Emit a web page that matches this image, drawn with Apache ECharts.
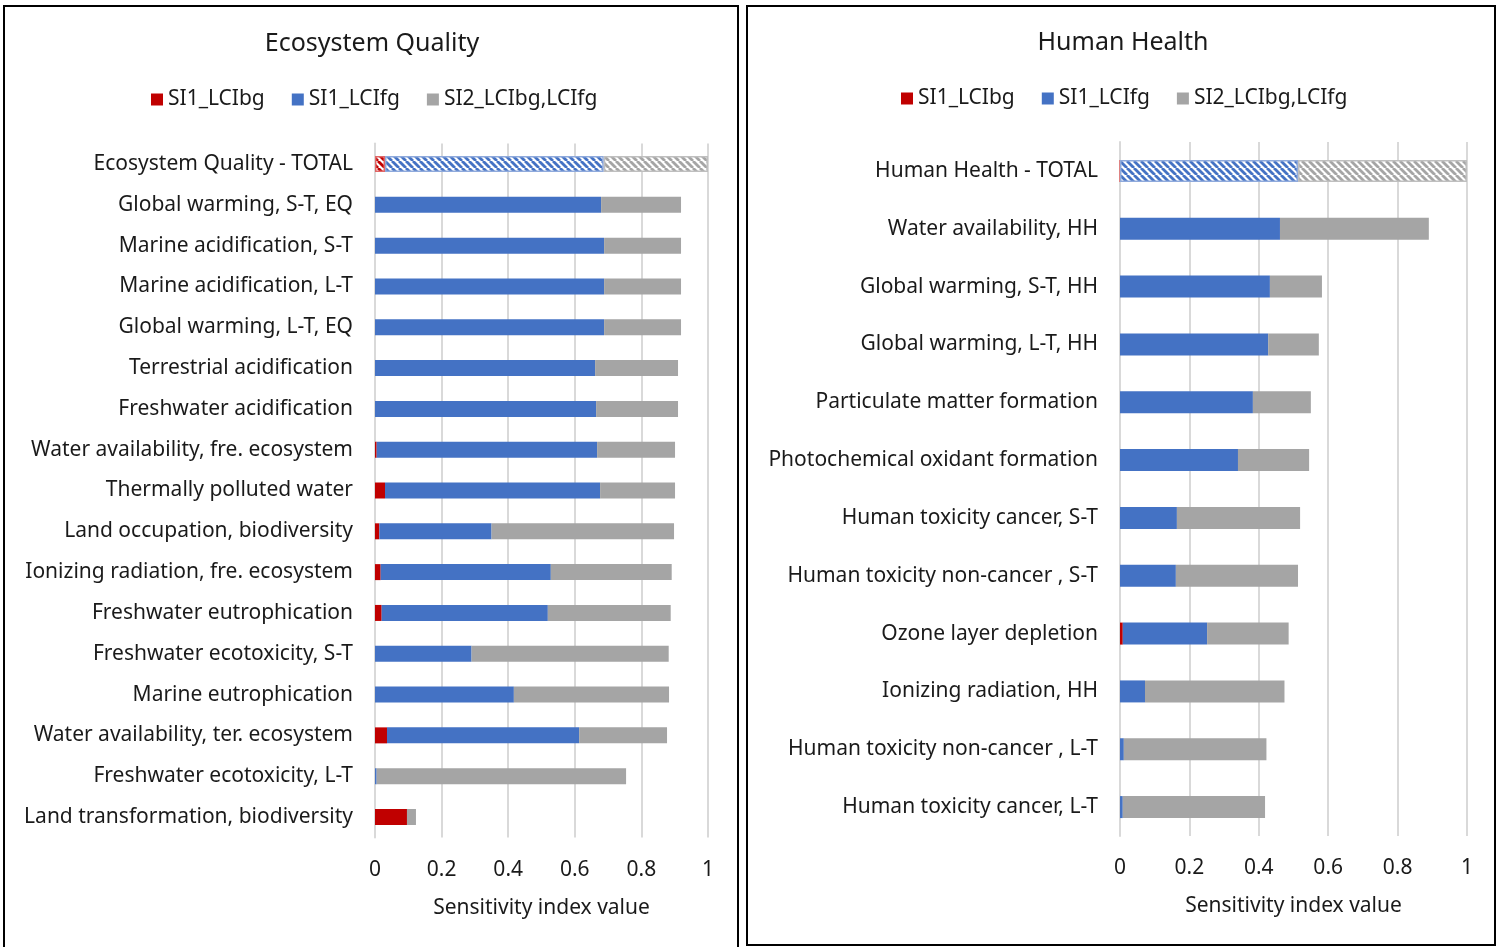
<!DOCTYPE html>
<html>
<head>
<meta charset="utf-8">
<script src="https://cdn.jsdelivr.net/npm/echarts@6/dist/echarts.min.js"></script>
<style>
  html, body { margin: 0; padding: 0; background: #fff; }
  #chart { width: 1502px; height: 947px; }
</style>
</head>
<body>
<div id="chart"></div>
<script>
// ---- data: Ecosystem Quality (top to bottom) ----
const eqCategories = [
  "Ecosystem Quality - TOTAL", "Global warming, S-T, EQ", "Marine acidification, S-T",
  "Marine acidification, L-T", "Global warming, L-T, EQ", "Terrestrial acidification",
  "Freshwater acidification", "Water availability, fre. ecosystem", "Thermally polluted water",
  "Land occupation, biodiversity", "Ionizing radiation, fre. ecosystem", "Freshwater eutrophication",
  "Freshwater ecotoxicity, S-T", "Marine eutrophication", "Water availability, ter. ecosystem",
  "Freshwater ecotoxicity, L-T", "Land transformation, biodiversity"
];
const eqSI1bg = [0.030, 0, 0, 0, 0, 0, 0, 0.005, 0.030, 0.013, 0.017, 0.020, 0, 0, 0.036, 0, 0.096];
const eqSI1fg = [0.657, 0.679, 0.688, 0.688, 0.688, 0.661, 0.664, 0.662, 0.646, 0.337, 0.511, 0.499, 0.290, 0.417, 0.577, 0.005, 0];
const eqSI2   = [0.313, 0.240, 0.231, 0.231, 0.231, 0.249, 0.246, 0.234, 0.225, 0.548, 0.363, 0.369, 0.592, 0.466, 0.264, 0.749, 0.027];

// ---- data: Human Health (top to bottom) ----
const hhCategories = [
  "Human Health - TOTAL", "Water availability, HH", "Global warming, S-T, HH",
  "Global warming, L-T, HH", "Particulate matter formation", "Photochemical oxidant formation",
  "Human toxicity cancer, S-T", "Human toxicity non-cancer , S-T", "Ozone layer depletion",
  "Ionizing radiation, HH", "Human toxicity non-cancer , L-T", "Human toxicity cancer, L-T"
];
const hhSI1bg = [0, 0, 0, 0, 0, 0, 0, 0, 0.008, 0, 0, 0];
const hhSI1fg = [0.513, 0.461, 0.432, 0.427, 0.383, 0.340, 0.164, 0.161, 0.243, 0.072, 0.011, 0.008];
const hhSI2   = [0.487, 0.429, 0.150, 0.146, 0.167, 0.205, 0.355, 0.352, 0.235, 0.402, 0.411, 0.410];

const seriesNames = ["SI1_LCIbg", "SI1_LCIfg", "SI2_LCIbg,LCIfg"];
const colors = ["#C00000", "#4472C4", "#A5A5A5"];
const borderColors = ["#E06666", "#8FAADC", "#BFBFBF"];
const FONT = "Noto Sans";
const TXT = "#1a1a1a";

// diagonal hatch used for the TOTAL rows
const makeHatch = (color) => {
  const n = 7;
  const c = document.createElement("canvas");
  c.width = n; c.height = n;
  const ctx = c.getContext("2d");
  ctx.fillStyle = "#fff";
  ctx.fillRect(0, 0, n, n);
  ctx.strokeStyle = color;
  ctx.lineWidth = 2.8;
  [-n, 0, n].forEach(o => {
    ctx.beginPath();
    ctx.moveTo(o, 0);
    ctx.lineTo(o + n, n);
    ctx.stroke();
  });
  return { image: c, repeat: "repeat" };
};

const withTotal = (values, idx) => values.map((v, i) => {
  if (i !== 0) return v;
  return {
    value: v,
    itemStyle: { color: makeHatch(colors[idx]), borderColor: borderColors[idx], borderWidth: 1.5 }
  };
});

const makeSeries = (lists, gridIdx, barWidth) => lists.map((vals, k) => ({
  name: seriesNames[k],
  type: "bar",
  stack: "s" + gridIdx,
  xAxisIndex: gridIdx,
  yAxisIndex: gridIdx,
  barWidth: barWidth,
  itemStyle: { color: colors[k] },
  data: withTotal(vals, k)
}));

const xAxisBase = (gridIdx) => ({
  gridIndex: gridIdx,
  type: "value",
  min: 0,
  max: 1,
  interval: 0.2,
  axisLine: { show: false },
  axisTick: { show: false },
  splitLine: { lineStyle: { color: "#D9D9D9", width: 2 } },
  axisLabel: { fontFamily: FONT, fontSize: 21, color: TXT, margin: 22 },
  name: "Sensitivity index value",
  nameLocation: "middle",
  nameGap: 60,
  nameTextStyle: { fontFamily: FONT, fontSize: 21, color: TXT }
});

const yAxisBase = (gridIdx, cats) => ({
  gridIndex: gridIdx,
  type: "category",
  inverse: true,
  data: cats,
  axisLine: { lineStyle: { color: "#D9D9D9", width: 2 } },
  axisTick: { show: false },
  axisLabel: { fontFamily: FONT, fontSize: 21, color: TXT, margin: 22 }
});

const legendBase = (leftX, top) => ({
  data: seriesNames,
  left: leftX,
  top: top,
  itemWidth: 12,
  itemHeight: 12,
  itemGap: 27,
  icon: "rect",
  selectedMode: false,
  textStyle: { fontFamily: FONT, fontSize: 21, color: TXT }
});

const myChart = echarts.init(document.getElementById("chart"));

let option = {
  backgroundColor: "#fff",
  animation: false,
  graphic: [
    { type: "rect", shape: { x: 4, y: 6, width: 734, height: 945 }, style: { fill: "none", stroke: "#000", lineWidth: 2 } },
    { type: "rect", shape: { x: 747, y: 6, width: 748, height: 939 }, style: { fill: "none", stroke: "#000", lineWidth: 2 } }
  ],
  title: [
    { text: "Ecosystem Quality", left: 367, top: 26, textAlign: "center",
      textStyle: { fontFamily: FONT, fontSize: 25, fontWeight: "normal", color: TXT } },
    { text: "Human Health", left: 1118, top: 25, textAlign: "center",
      textStyle: { fontFamily: FONT, fontSize: 25, fontWeight: "normal", color: TXT } }
  ],
  legend: [
    legendBase(146, 84),
    legendBase(896, 83)
  ],
  grid: [
    { left: 375, width: 333, top: 143.6, height: 693.8 },
    { left: 1120, width: 347, top: 142, height: 694 }
  ],
  xAxis: [xAxisBase(0), xAxisBase(1)],
  yAxis: [yAxisBase(0, eqCategories), yAxisBase(1, hhCategories)],
  series: [
    ...makeSeries([eqSI1bg, eqSI1fg, eqSI2], 0, 16),
    ...makeSeries([hhSI1bg, hhSI1fg, hhSI2], 1, 22)
  ]
};

option && myChart.setOption(option);
</script>
</body>
</html>
